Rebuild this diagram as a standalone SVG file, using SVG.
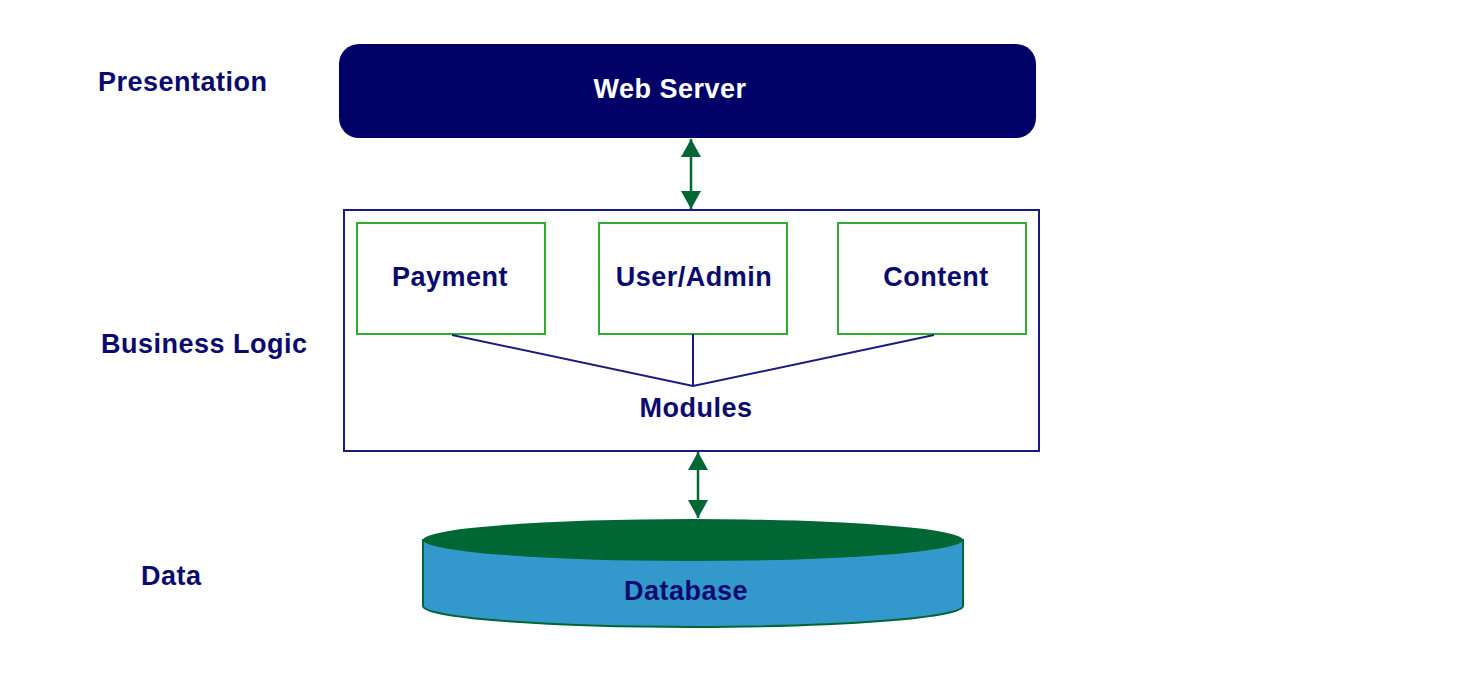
<svg xmlns="http://www.w3.org/2000/svg" width="1460" height="682" viewBox="0 0 1460 682">
<style>
.t{font-family:"Liberation Sans",Arial,sans-serif;font-weight:bold;font-size:27px;letter-spacing:0.5px;fill:#0a0a6e}
.c{text-anchor:middle}
.mod{fill:#fff;stroke:#33aa33;stroke-width:2}
.ln{stroke:#1a1a80;stroke-width:2;fill:none}
.ar{stroke:#006633;stroke-width:2.5;fill:none;marker-start:url(#ah);marker-end:url(#ah)}
</style>
<defs>
<marker id="ah" viewBox="0 0 18 20" refX="18" refY="10" markerWidth="18" markerHeight="20" markerUnits="userSpaceOnUse" orient="auto-start-reverse">
<path d="M0,0 L18,10 L0,20 Z" fill="#006633"/>
</marker>
</defs>
<rect width="1460" height="682" fill="#fff"/>
<g id="labels">
<text class="t" x="98" y="91">Presentation</text>
<text class="t" x="101" y="353">Business Logic</text>
<text class="t" x="141" y="585">Data</text>
</g>
<g id="webserver">
<rect x="339" y="44" width="697" height="94" rx="20" fill="#000066"/>
<text class="t c" x="670" y="98" style="fill:#fff">Web Server</text>
</g>
<g id="business">
<rect x="344" y="210" width="695" height="241" fill="#fff" stroke="#1a1a80" stroke-width="2"/>
<text class="t c" x="696" y="417">Modules</text>
</g>
<g id="payment">
<rect class="mod" x="357" y="223" width="188" height="111"/>
<text class="t c" x="450" y="286">Payment</text>
</g>
<g id="useradmin">
<rect class="mod" x="599" y="223" width="188" height="111"/>
<text class="t c" x="694" y="286">User/Admin</text>
</g>
<g id="content">
<rect class="mod" x="838" y="223" width="188" height="111"/>
<text class="t c" x="936" y="286">Content</text>
</g>
<g id="database">
<path d="M423,540 L423,606 A270,21 0 0 0 963,606 L963,540 Z" fill="#3399cc" stroke="#006633" stroke-width="2"/>
<ellipse cx="693" cy="540" rx="270" ry="21" fill="#006633"/>
<text class="t c" x="686" y="600">Database</text>
</g>
<g id="connectors">
<line class="ar" x1="691" y1="139" x2="691" y2="209"/>
<line class="ar" x1="698" y1="452" x2="698" y2="518"/>
<polyline class="ln" points="452,335 693,386 934,335"/>
<line class="ln" x1="693" y1="334" x2="693" y2="386"/>
</g>
</svg>
